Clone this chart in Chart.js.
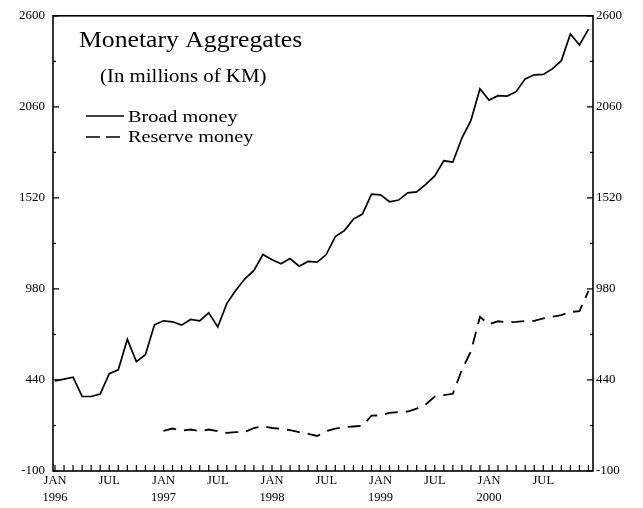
<!DOCTYPE html>
<html>
<head>
<meta charset="utf-8">
<script src="https://cdn.jsdelivr.net/npm/chart.js@4/dist/chart.umd.min.js"></script>
<style>
  html, body { margin: 0; padding: 0; background: #fff; }
  #wrap { width: 643px; height: 508px; }
</style>
</head>
<body>
<div id="wrap"><canvas id="chart" width="643" height="508"></canvas></div>
<script>
// months Jan 1996 .. Dec 2000
const monthNames = ['JAN', 'FEB', 'MAR', 'APR', 'MAY', 'JUN', 'JUL', 'AUG', 'SEP', 'OCT', 'NOV', 'DEC'];
const years = ['1996', '1997', '1998', '1999', '2000'];

// millions of KM, one value per month
const broadMoney = [
  435, 445, 456, 342, 342, 356, 477, 500, 681, 549, 590, 767,
  791, 785, 765, 799, 791, 838, 755, 893, 972, 1040, 1090, 1184,
  1153, 1129, 1160, 1115, 1143, 1139, 1184, 1290, 1326, 1394, 1424, 1542,
  1538, 1497, 1507, 1550, 1556, 1600, 1650, 1740, 1733, 1875, 1980, 2167,
  2100, 2126, 2124, 2150, 2226, 2250, 2252, 2285, 2334, 2492, 2427, 2521
];
// no reserve money series before 1997
const reserveMoney = [
  null, null, null, null, null, null, null, null, null, null, null, null,
  138, 152, 140, 146, 136, 146, 136, 126, 130, 132, 155, 165,
  155, 150, 142, 130, 120, 108, 136, 152, 160, 164, 168, 228,
  230, 245, 250, 253, 270, 295, 342, 350, 358, 500, 610, 814,
  770, 788, 782, 785, 790, 790, 805, 815, 825, 843, 848, 968
];

const yTicks = [-100, 440, 980, 1520, 2060, 2600];

const months = [];
years.forEach(y => monthNames.forEach(m => months.push({ mon: m, year: y })));

const toPoints = arr => arr.map((v, i) => ({ x: i, y: v })).filter(p => p.y !== null);

const serif = 'Liberation Serif';

// the scanned type is a bit wider than Times, so stretch it sideways
function drawText(ctx, text, x, y, size, sx) {
  ctx.save();
  ctx.translate(x, y);
  ctx.scale(sx, 1);
  ctx.font = size + 'px "' + serif + '"';
  ctx.fillText(text, 0, 0);
  ctx.restore();
}

// plot frame, inward tick marks, title and legend text
const framePlugin = {
  id: 'frame',
  afterDatasetsDraw(chart) {
    const { ctx, chartArea: a, scales } = chart;
    ctx.save();
    ctx.strokeStyle = '#000';
    ctx.lineWidth = 1.6;
    ctx.strokeRect(a.left, a.top, a.right - a.left, a.bottom - a.top);

    ctx.lineWidth = 1.2;
    ctx.beginPath();
    months.forEach((m, i) => {
      const px = scales.x.getPixelForValue(i);
      ctx.moveTo(px, a.bottom);
      ctx.lineTo(px, a.bottom - 6);
    });
    yTicks.forEach((v, i) => {
      const py = scales.y.getPixelForValue(v);
      ctx.moveTo(a.left, py); ctx.lineTo(a.left + 6, py);
      ctx.moveTo(a.right, py); ctx.lineTo(a.right - 6, py);
      if (i < yTicks.length - 1) {
        const pm = scales.y.getPixelForValue((v + yTicks[i + 1]) / 2);
        ctx.moveTo(a.left, pm); ctx.lineTo(a.left + 3, pm);
        ctx.moveTo(a.right, pm); ctx.lineTo(a.right - 3, pm);
      }
    });
    ctx.stroke();

    ctx.fillStyle = '#000';
    ctx.textBaseline = 'alphabetic';
    drawText(ctx, 'Monetary Aggregates', 79, 47, 24, 1.07);
    drawText(ctx, '(In millions of KM)', 100, 82, 18, 1.16);
    drawText(ctx, 'Broad money', 128, 122, 17, 1.19);
    drawText(ctx, 'Reserve money', 128, 142, 17, 1.19);

    ctx.lineWidth = 1.6;
    ctx.beginPath();
    ctx.moveTo(86, 116); ctx.lineTo(124, 116);
    ctx.stroke();
    ctx.setLineDash([14, 6]);
    ctx.beginPath();
    ctx.moveTo(86, 137); ctx.lineTo(124, 137);
    ctx.stroke();
    ctx.restore();
  }
};

const yAxis = (position, width, pad) => ({
  type: 'linear',
  position: position,
  min: -100,
  max: 2600,
  afterBuildTicks: s => { s.ticks = yTicks.map(v => ({ value: v })); },
  afterFit: s => { s.width = width; },
  grid: { display: false, drawTicks: false },
  border: { display: false },
  ticks: {
    padding: pad,
    color: '#000',
    font: { family: serif, size: 13 },
    callback: v => String(v)
  }
});

new Chart(document.getElementById('chart').getContext('2d'), {
  type: 'line',
  data: {
    datasets: [{
      label: 'Broad money',
      data: toPoints(broadMoney),
      borderColor: '#000',
      borderWidth: 1.7,
      pointRadius: 0,
      tension: 0,
      yAxisID: 'y'
    }, {
      label: 'Reserve money',
      data: toPoints(reserveMoney),
      borderColor: '#000',
      borderWidth: 1.8,
      borderDash: [13, 8],
      pointRadius: 0,
      tension: 0,
      yAxisID: 'y'
    }]
  },
  options: {
    responsive: false,
    animation: false,
    devicePixelRatio: 1,
    layout: { padding: { top: 14, left: 0, right: 0, bottom: 0 } },
    plugins: { legend: { display: false }, tooltip: { enabled: false } },
    scales: {
      x: {
        type: 'linear',
        min: -0.22,
        max: 59.5,
        afterBuildTicks: s => { s.ticks = months.map((m, i) => ({ value: i })); },
        afterFit: s => { s.height = 37; },
        grid: { display: false, drawTicks: false },
        border: { display: false },
        ticks: {
          autoSkip: false,
          maxRotation: 0,
          padding: 2,
          color: '#000',
          font: { family: serif, size: 12.5, lineHeight: 1.3 },
          callback: v => {
            const m = months[v];
            if (!m) return '';
            if (m.mon === 'JAN') return [m.mon, m.year];
            if (m.mon === 'JUL') return m.mon;
            return '';
          }
        }
      },
      y: yAxis('left', 53, 8),
      y2: yAxis('right', 50, 3)
    }
  },
  plugins: [framePlugin]
});
</script>
</body>
</html>
